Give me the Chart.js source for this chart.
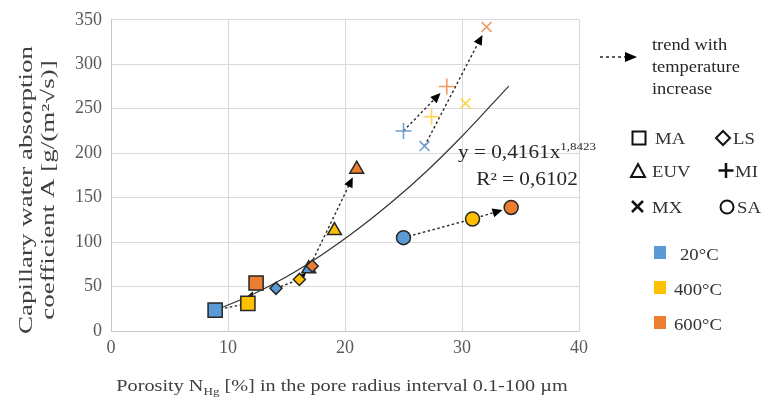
<!DOCTYPE html>
<html>
<head>
<meta charset="utf-8">
<script src="https://cdn.jsdelivr.net/npm/chart.js@4.4.1/dist/chart.umd.min.js"></script>
<style>
  html, body { margin: 0; padding: 0; background: #fff; }
  #chart { display: block; }
</style>
</head>
<body>
<canvas id="chart" width="774" height="399"></canvas>
<script>
// temperatures (20, 400, 600 °C) -> index 0, 1, 2 in every material array
const temperatures = ["20°C", "400°C", "600°C"];
const tempColors = ["#5b9bd5", "#ffc000", "#ed7d31"];
const lightColors = ["#6f9fd0", "#ffd54f", "#f19a63"];

const maX = [8.9, 11.7, 12.4];
const maY = [23.5, 31, 54];
const lsX = [14.1, 16.1, 17.2];
const lsY = [48, 58, 73];
const euvX = [16.9, 19.1, 21.0];
const euvY = [70, 113, 182];
const miX = [25.0, 27.4, 28.7];
const miY = [225, 241, 275];
const mxX = [26.8, 30.3, 32.1];
const mxY = [208, 256, 342];
const saX = [25.0, 30.9, 34.2];
const saY = [105, 126, 139];

// power trend line
const trendX = [9, 12, 15, 18, 21, 24, 27, 30, 34];
const trendY = [23.8, 40.5, 61, 85.5, 113.5, 145, 180, 219, 275.5];

const xTicks = [0, 10, 20, 30, 40];
const yTicks = [0, 50, 100, 150, 200, 250, 300, 350];

// which points the dotted "temperature increase" arrows go through
const arrowOrder = {
  MA: [0, 1, 2],
  LS: [0, 1, 2],
  EUV: [0, 2],
  MI: [0, 2],
  MX: [0, 2],
  SA: [0, 1, 2],
};

const SERIF = "'Liberation Serif', 'Times New Roman', serif";
const DARK = "#262626";

function pts(xs, ys) {
  return xs.map((x, i) => ({ x: x, y: ys[i] }));
}

const materials = [
  { name: "MA", xs: maX, ys: maY, style: "rect", r: 10, filled: true },
  { name: "LS", xs: lsX, ys: lsY, style: "rectRot", r: 6, filled: true },
  { name: "EUV", xs: euvX, ys: euvY, style: "triangle", r: 8, filled: true },
  { name: "MI", xs: miX, ys: miY, style: "cross", r: 8, filled: false },
  { name: "MX", xs: mxX, ys: mxY, style: "crossRot", r: 7, filled: false },
  { name: "SA", xs: saX, ys: saY, style: "circle", r: 7, filled: true },
];

const datasets = materials.map((m) => ({
  label: m.name,
  data: pts(m.xs, m.ys),
  pointStyle: m.style,
  pointRadius: m.r,
  pointBackgroundColor: tempColors,
  pointBorderColor: m.filled ? DARK : lightColors,
  pointBorderWidth: m.filled ? 1.5 : 1.6,
  showLine: false,
  order: 0,
}));

datasets.push({
  type: "line",
  label: "trend",
  data: pts(trendX, trendY),
  borderColor: "#333",
  borderWidth: 1.2,
  pointRadius: 0,
  cubicInterpolationMode: "monotone",
  fill: false,
  order: 10,
});

const arrowPlugin = {
  id: "tempArrows",
  beforeDatasetsDraw(chart) {
    const { ctx, scales } = chart;
    ctx.save();
    materials.forEach((m) => {
      const p = arrowOrder[m.name].map((i) => ({
        x: scales.x.getPixelForValue(m.xs[i]),
        y: scales.y.getPixelForValue(m.ys[i]),
      }));
      const a = p[p.length - 2];
      const b = p[p.length - 1];
      const len = Math.hypot(b.x - a.x, b.y - a.y);
      const ux = (b.x - a.x) / len;
      const uy = (b.y - a.y) / len;
      const tip = { x: b.x - ux * 9, y: b.y - uy * 9 };
      ctx.setLineDash([2.5, 2.5]);
      ctx.strokeStyle = DARK;
      ctx.lineWidth = 1.4;
      ctx.beginPath();
      ctx.moveTo(p[0].x, p[0].y);
      for (let i = 1; i < p.length - 1; i++) ctx.lineTo(p[i].x, p[i].y);
      ctx.lineTo(tip.x - ux * 8, tip.y - uy * 8);
      ctx.stroke();
      ctx.setLineDash([]);
      ctx.fillStyle = "#000";
      ctx.beginPath();
      ctx.moveTo(tip.x, tip.y);
      ctx.lineTo(tip.x - ux * 10 - uy * 4.5, tip.y - uy * 10 + ux * 4.5);
      ctx.lineTo(tip.x - ux * 10 + uy * 4.5, tip.y - uy * 10 - ux * 4.5);
      ctx.closePath();
      ctx.fill();
    });
    ctx.restore();
  },
};

// text made of runs (for sub / superscripts), stretched horizontally by sx
function runs(ctx, parts, x, y, sx, align) {
  let w = 0;
  parts.forEach((p) => {
    ctx.font = p.font;
    p.w = ctx.measureText(p.t).width;
    w += p.w;
  });
  ctx.save();
  ctx.translate(x, y);
  ctx.scale(sx, 1);
  let cx = align === "center" ? -w / 2 : align === "right" ? -w : 0;
  ctx.textAlign = "left";
  parts.forEach((p) => {
    ctx.font = p.font;
    ctx.fillText(p.t, cx, p.dy || 0);
    cx += p.w;
  });
  ctx.restore();
}

const textPlugin = {
  id: "texts",
  afterDraw(chart) {
    const { ctx } = chart;
    const f = (s) => s + "px " + SERIF;
    ctx.save();
    ctx.textBaseline = "alphabetic";

    // y axis title (two lines, rotated)
    ctx.fillStyle = "#404040";
    ctx.save();
    ctx.textBaseline = "middle";
    ctx.translate(27, 190);
    ctx.rotate(-Math.PI / 2);
    runs(ctx, [{ t: "Capillary water absorption", font: f(18) }], 0, 0, 1.5, "center");
    ctx.restore();
    ctx.save();
    ctx.textBaseline = "middle";
    ctx.translate(49, 190);
    ctx.rotate(-Math.PI / 2);
    runs(ctx, [{ t: "coefficient A [g/(m²√s)]", font: f(18) }], 0, 0, 1.5, "center");
    ctx.restore();

    // x axis title
    runs(ctx, [
      { t: "Porosity N", font: f(17) },
      { t: "Hg", font: f(11), dy: 4 },
      { t: " [%] in the pore radius interval 0.1-100 µm", font: f(17) },
    ], 342, 391, 1.19, "center");

    // trend equation
    ctx.fillStyle = DARK;
    runs(ctx, [
      { t: "y = 0,4161x", font: f(18) },
      { t: "1,8423", font: f(11), dy: -8 },
    ], 527, 158, 1.18, "center");
    runs(ctx, [{ t: "R² = 0,6102", font: f(18) }], 527, 185, 1.18, "center");

    // legend: arrow
    ctx.strokeStyle = DARK;
    ctx.lineWidth = 1.5;
    ctx.setLineDash([3, 3]);
    ctx.beginPath();
    ctx.moveTo(600, 57);
    ctx.lineTo(626, 57);
    ctx.stroke();
    ctx.setLineDash([]);
    ctx.fillStyle = "#000";
    ctx.beginPath();
    ctx.moveTo(637, 57);
    ctx.lineTo(625, 52);
    ctx.lineTo(625, 62);
    ctx.closePath();
    ctx.fill();
    ctx.fillStyle = DARK;
    runs(ctx, [{ t: "trend with", font: f(16) }], 652, 50, 1.15, "left");
    runs(ctx, [{ t: "temperature", font: f(16) }], 652, 72, 1.15, "left");
    runs(ctx, [{ t: "increase", font: f(16) }], 652, 94, 1.15, "left");

    // legend: marker shapes
    ctx.strokeStyle = "#111";
    ctx.lineWidth = 2;
    ctx.strokeRect(632.5, 131.5, 13, 13);
    ctx.beginPath();
    ctx.moveTo(723, 131); ctx.lineTo(730, 138); ctx.lineTo(723, 145); ctx.lineTo(716, 138);
    ctx.closePath();
    ctx.stroke();
    ctx.beginPath();
    ctx.moveTo(638, 164); ctx.lineTo(645, 177); ctx.lineTo(631, 177);
    ctx.closePath();
    ctx.stroke();
    ctx.lineWidth = 2.5;
    ctx.beginPath();
    ctx.moveTo(726, 163); ctx.lineTo(726, 178);
    ctx.moveTo(718.5, 170.5); ctx.lineTo(733.5, 170.5);
    ctx.moveTo(632, 201); ctx.lineTo(643, 212);
    ctx.moveTo(643, 201); ctx.lineTo(632, 212);
    ctx.stroke();
    ctx.lineWidth = 2;
    ctx.beginPath();
    ctx.arc(727, 207, 6.5, 0, Math.PI * 2);
    ctx.stroke();

    ctx.fillStyle = "#333";
    const lf = f(17);
    runs(ctx, [{ t: "MA", font: lf }], 655, 144, 1.1, "left");
    runs(ctx, [{ t: "LS", font: lf }], 733, 144, 1.1, "left");
    runs(ctx, [{ t: "EUV", font: lf }], 652, 177, 1.1, "left");
    runs(ctx, [{ t: "MI", font: lf }], 735, 177, 1.1, "left");
    runs(ctx, [{ t: "MX", font: lf }], 652, 213, 1.1, "left");
    runs(ctx, [{ t: "SA", font: lf }], 737, 213, 1.1, "left");

    // legend: temperature colours
    temperatures.forEach((t, i) => {
      const cy = 253 + i * 35;
      ctx.fillStyle = tempColors[i];
      ctx.fillRect(654, cy - 7, 12, 13);
      ctx.fillStyle = "#333";
      runs(ctx, [{ t: t, font: lf }], i === 0 ? 680 : 674, cy + 7, 1.1, "left");
    });
    ctx.restore();
  },
};

new Chart(document.getElementById("chart"), {
  type: "scatter",
  data: { datasets: datasets },
  options: {
    responsive: false,
    animation: false,
    layout: { padding: { top: 18, right: 195, bottom: 0, left: 0 } },
    plugins: {
      legend: { display: false },
      tooltip: { enabled: false },
    },
    scales: {
      x: {
        type: "linear",
        min: xTicks[0],
        max: xTicks[xTicks.length - 1],
        afterBuildTicks: (s) => { s.ticks = xTicks.map((v) => ({ value: v })); },
        ticks: {
          color: "#595959",
          font: { family: SERIF, size: 18 },
          padding: 6,
        },
        grid: { color: "#d9d9d9", drawTicks: false },
        border: { color: "#c8c8c8" },
        afterFit: (s) => { s.height = 68; },
      },
      y: {
        min: yTicks[0],
        max: yTicks[yTicks.length - 1],
        afterBuildTicks: (s) => { s.ticks = yTicks.map((v) => ({ value: v })); },
        ticks: {
          color: "#595959",
          font: { family: SERIF, size: 18 },
          padding: 9,
        },
        grid: { color: "#d9d9d9", drawTicks: false },
        border: { color: "#c8c8c8" },
        afterFit: (s) => { s.width = 111; },
      },
    },
  },
  plugins: [arrowPlugin, textPlugin],
});
</script>
</body>
</html>
